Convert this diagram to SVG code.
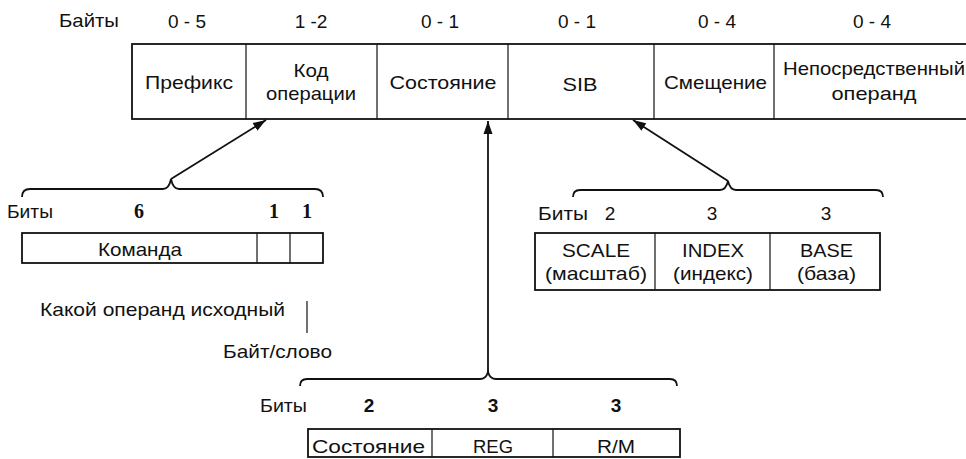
<svg xmlns="http://www.w3.org/2000/svg" width="966" height="459" viewBox="0 0 966 459">
<style>
text{font-family:"Liberation Sans",Arial,sans-serif;font-size:19px;fill:#111}
.m{text-anchor:middle}
.bs{font-family:"Liberation Serif","Times New Roman",serif;font-weight:bold;font-size:20px;text-anchor:middle}
.bh{font-weight:bold;font-size:19px;text-anchor:middle}
.box{fill:#fff;stroke:#111;stroke-width:1.8}
.div{stroke:#111;stroke-width:1.2;fill:none}
.con{stroke:#111;stroke-width:1.8;fill:none}
</style>
<defs>
<marker id="ah" markerUnits="userSpaceOnUse" markerWidth="14" markerHeight="10" refX="13" refY="5" orient="auto">
<path d="M0,0.5 L13,5 L0,9.5 Z" fill="#111"/>
</marker>
</defs>
<rect width="966" height="459" fill="#fff"/>

<g id="byte-header">
<text x="59" y="27" textLength="60" lengthAdjust="spacingAndGlyphs">Байты</text>
<text class="m" x="187" y="28">0 - 5</text>
<text class="m" x="311" y="28">1 -2</text>
<text class="m" x="440" y="28">0 - 1</text>
<text class="m" x="577" y="28">0 - 1</text>
<text class="m" x="717" y="28">0 - 4</text>
<text class="m" x="872" y="28">0 - 4</text>
</g>

<g id="instruction-format">
<rect class="box" x="132" y="44" width="840" height="75"/>
<line class="div" x1="246" y1="44" x2="246" y2="119"/>
<line class="div" x1="377" y1="44" x2="377" y2="119"/>
<line class="div" x1="508" y1="44" x2="508" y2="119"/>
<line class="div" x1="654" y1="44" x2="654" y2="119"/>
<line class="div" x1="774" y1="44" x2="774" y2="119"/>
<text x="145" y="89" textLength="88" lengthAdjust="spacingAndGlyphs">Префикс</text>
<text x="293.5" y="77" textLength="35" lengthAdjust="spacingAndGlyphs">Код</text>
<text x="266" y="100" textLength="90" lengthAdjust="spacingAndGlyphs">операции</text>
<text x="389.5" y="89" textLength="107" lengthAdjust="spacingAndGlyphs">Состояние</text>
<text x="562.5" y="91" textLength="35" lengthAdjust="spacingAndGlyphs">SIB</text>
<text x="664" y="89" textLength="103" lengthAdjust="spacingAndGlyphs">Смещение</text>
<text x="783" y="75" textLength="182" lengthAdjust="spacingAndGlyphs">Непосредственный</text>
<text x="831.5" y="100" textLength="85" lengthAdjust="spacingAndGlyphs">операнд</text>
</g>

<g id="opcode-bits">
<text x="7" y="218" textLength="46" lengthAdjust="spacingAndGlyphs">Биты</text>
<text class="bs" x="139" y="218">6</text>
<text class="bs" x="274" y="218">1</text>
<text class="bs" x="307" y="218">1</text>
<rect class="box" x="22" y="233" width="301" height="30"/>
<line class="div" x1="257" y1="233" x2="257" y2="263"/>
<line class="div" x1="290" y1="233" x2="290" y2="263"/>
<text x="98" y="256" textLength="84" lengthAdjust="spacingAndGlyphs">Команда</text>
</g>

<g id="opcode-notes">
<text x="40" y="316" textLength="245" lengthAdjust="spacingAndGlyphs">Какой операнд исходный</text>
<line class="div" x1="307" y1="301" x2="307" y2="333"/>
<text x="223" y="358" textLength="109" lengthAdjust="spacingAndGlyphs">Байт/слово</text>
</g>

<g id="sib-bits">
<text x="538" y="220" textLength="50" lengthAdjust="spacingAndGlyphs">Биты</text>
<text class="m" x="610" y="220">2</text>
<text class="m" x="712" y="220">3</text>
<text class="m" x="826" y="220">3</text>
<rect class="box" x="535" y="233" width="345" height="57"/>
<line class="div" x1="655" y1="233" x2="655" y2="290"/>
<line class="div" x1="770" y1="233" x2="770" y2="290"/>
<text x="562" y="257" textLength="68" lengthAdjust="spacingAndGlyphs">SCALE</text>
<text x="545" y="280" textLength="102" lengthAdjust="spacingAndGlyphs">(масштаб)</text>
<text x="682" y="257" textLength="62" lengthAdjust="spacingAndGlyphs">INDEX</text>
<text x="673" y="280" textLength="80" lengthAdjust="spacingAndGlyphs">(индекс)</text>
<text x="800" y="257" textLength="53" lengthAdjust="spacingAndGlyphs">BASE</text>
<text x="797" y="280" textLength="59" lengthAdjust="spacingAndGlyphs">(база)</text>
</g>

<g id="modrm-bits">
<text x="260" y="412" textLength="47" lengthAdjust="spacingAndGlyphs">Биты</text>
<text class="bh" x="369" y="412">2</text>
<text class="bh" x="493" y="412">3</text>
<text class="bh" x="616" y="412">3</text>
<rect class="box" x="308" y="429" width="372" height="28"/>
<line class="div" x1="432" y1="429" x2="432" y2="457"/>
<line class="div" x1="553" y1="429" x2="553" y2="457"/>
<text x="312" y="453" textLength="113" lengthAdjust="spacingAndGlyphs">Состояние</text>
<text x="473" y="453" textLength="40" lengthAdjust="spacingAndGlyphs">REG</text>
<text x="597" y="453" textLength="38" lengthAdjust="spacingAndGlyphs">R/M</text>
</g>

<g id="connectors">
<path class="con" d="M22,197 Q22,189 30,189 L163,189 Q169,189 171,179 Q173,189 179,189 L315,189 Q323,189 323,197"/>
<path class="con" d="M573,197 Q573,190 580,190 L720,190 Q726,190 728,181 Q730,190 736,190 L876,190 Q883,190 883,197"/>
<path class="con" d="M300,386 Q300,379 307,379 L480,379 Q486,379 488,372 Q490,379 496,379 L670,379 Q677,379 677,386"/>
<line class="con" x1="171" y1="179" x2="266" y2="120" marker-end="url(#ah)"/>
<line class="con" x1="488" y1="372" x2="488" y2="121" marker-end="url(#ah)"/>
<line class="con" x1="728" y1="181" x2="633" y2="120" marker-end="url(#ah)"/>
</g>
</svg>
